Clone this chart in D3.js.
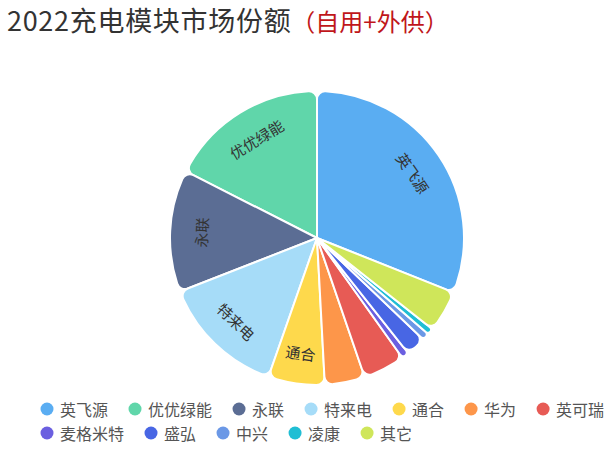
<!DOCTYPE html>
<html>
<head>
<meta charset="utf-8">
<script src="https://cdn.jsdelivr.net/npm/d3@7"></script>
<style>
  body { margin: 0; background: #fff; }
  svg { display: block; font-family: "Noto Sans CJK SC", "Noto Sans", sans-serif; }
</style>
</head>
<body>
<svg id="chart" width="604" height="450"></svg>
<script>
// market share data (percent), legend order
const makers = ['英飞源', '优优绿能', '永联', '特来电', '通合', '华为', '英可瑞', '麦格米特', '盛弘', '中兴', '凌康', '其它'];
const shares = [31.0, 17.5, 13.4, 13.7, 6.2, 4.4, 4.6, 0.8, 2.2, 0.8, 0.7, 4.6];
const colors = ['#5aadf2', '#60d6aa', '#5b6d94', '#a6dcf8', '#fed94c', '#fd964a', '#e75b55', '#6b5fe0', '#4866e4', '#6b98e6', '#20bed4', '#cfe65a'];

const svg = d3.select('#chart');
const cx = 317, cy = 238, R = 147;

// title
const title = svg.append('text')
    .attr('x', 7)
    .attr('y', 31)
    .attr('fill', '#333');
title.append('tspan')
    .attr('font-size', 27)
    .attr('letter-spacing', 0.7)
    .text('2022充电模块市场份额');
title.append('tspan')
    .attr('font-size', 24)
    .attr('fill', '#c0161a')
    .text('（自用+外供）');

// pie goes counter-clockwise, first slice ends at 12 o'clock
const total = d3.sum(shares);
const start = shares[0] / total * 2 * Math.PI;
const pie = d3.pie().sort(null).value(d => d).startAngle(start).endAngle(start - 2 * Math.PI);
const arcs = pie(shares);

const arc = d3.arc().innerRadius(0).outerRadius(R).cornerRadius(8);
const labelArc = d3.arc().innerRadius(116).outerRadius(116);

const g = svg.append('g').attr('transform', `translate(${cx},${cy})`);

g.selectAll('path')
    .data(arcs)
    .enter().append('path')
    .attr('d', arc)
    .attr('fill', (d, i) => colors[i])
    .attr('stroke', '#fff')
    .attr('stroke-width', 2)
    .attr('stroke-linejoin', 'round');

// tangential labels for the big slices
g.selectAll('.label')
    .data(arcs.filter(d => d.value / total > 0.05))
    .enter().append('text')
    .attr('class', 'label')
    .attr('transform', d => {
        const c = labelArc.centroid(d);
        let deg = ((d.startAngle + d.endAngle) / 2) * 180 / Math.PI;
        deg = ((deg % 360) + 360) % 360;
        const rot = (deg > 90 && deg < 270) ? deg - 180 : deg;
        return `translate(${c[0]},${c[1]}) rotate(${rot})`;
    })
    .attr('text-anchor', 'middle')
    .attr('dominant-baseline', 'central')
    .attr('font-size', 15)
    .attr('fill', '#333')
    .text(d => makers[d.index]);

// legend, two rows
const legendRows = [[0, 1, 2, 3, 4, 5, 6], [7, 8, 9, 10, 11]];
const rowY = [409, 433];
legendRows.forEach((row, r) => {
    let x = 47;
    row.forEach(i => {
        const item = svg.append('g').attr('transform', `translate(${x},${rowY[r]})`);
        item.append('circle').attr('r', 6.5).attr('fill', colors[i]);
        const t = item.append('text')
            .attr('x', 13)
            .attr('dominant-baseline', 'central')
            .attr('font-size', 16)
            .attr('fill', '#555')
            .text(makers[i]);
        x += 13 + t.node().getComputedTextLength() + 27;
    });
});
</script>
</body>
</html>
